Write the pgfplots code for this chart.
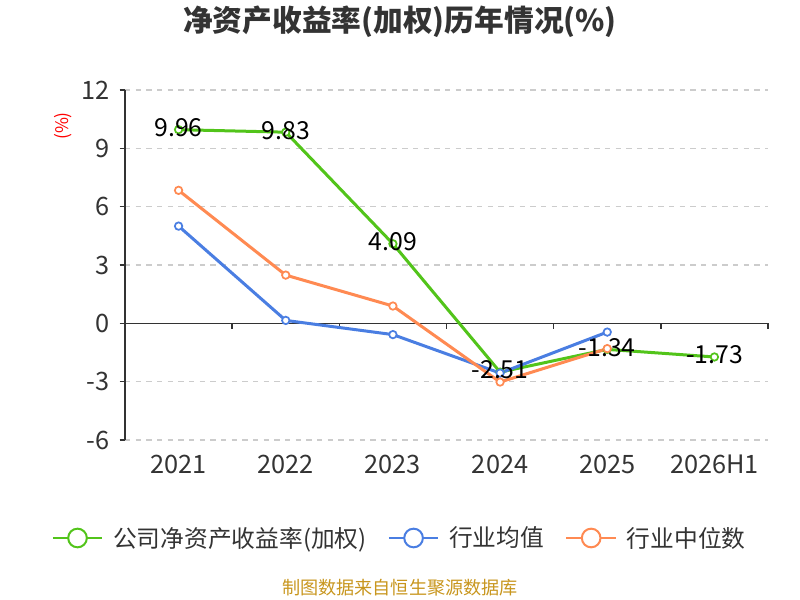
\documentclass[border=0pt]{standalone}
\usepackage{pgfplots}
\pgfplotsset{compat=1.18}
\usepackage{fontspec}
\setmainfont{Noto Sans CJK SC}
\definecolor{cgreen}{RGB}{82,196,26}
\definecolor{cblue}{RGB}{74,126,226}
\definecolor{corange}{RGB}{255,138,82}
\definecolor{ctext}{RGB}{51,51,51}
\definecolor{cgrid}{RGB}{204,204,204}
\definecolor{csrc}{RGB}{200,150,30}
\begin{document}
\begin{tikzpicture}
\path[use as bounding box] (0,0) rectangle (600pt,450pt);
\begin{axis}[
  at={(93.75pt,120pt)}, anchor=south west,
  scale only axis, width=482.25pt, height=262.5pt,
  xmin=-0.5, xmax=5.5, ymin=-6, ymax=12,
  xtick={0,1,2,3,4,5},
  xticklabels={2021,2022,2023,2024,2025,2026H1},
  ytick={-6,-3,0,3,6,9,12},
  axis y line*=left, axis x line*=bottom,
  x axis line style={draw=none},
  y axis line style={draw=ctext, line width=1.1pt, -},
  x tick style={draw=none},
  y tick style={draw=ctext, line width=1.1pt},
  tick align=outside, major tick length=4pt,
  ymajorgrids, grid style={cgrid, line width=1pt, dash pattern=on 4pt off 4pt},
  /pgf/number format/assume math mode=true,
  ticklabel style={font=\fontsize{19}{22}\selectfont, text=ctext},
  xticklabel style={yshift=-4pt},
  yticklabel style={xshift=-4pt},
  clip=false,
  legend style={at={(rel axis cs:0.4277,-0.28)}, anchor=center, draw=none, fill=none,
    font=\fontsize{17.8}{21}\selectfont, text=ctext,
    legend columns=3,
    /tikz/every odd column/.append style={column sep=5.5pt},
    /tikz/every even column/.append style={column sep=14pt}},
  legend cell align=left,
  legend image code/.code={
    \draw[line width=1.5pt] (-1pt,0pt) -- (36pt,0pt);
    \draw[line width=1.5pt, fill=white] (17.5pt,0pt) circle (7pt);
  },
]
\draw[ctext, line width=1.1pt] (axis cs:-0.5,0) -- (axis cs:5.5,0);
\draw[ctext, line width=1.1pt] (axis cs:0.5,0) -- ([yshift=-4pt]axis cs:0.5,0);
\draw[ctext, line width=1.1pt] (axis cs:1.5,0) -- ([yshift=-4pt]axis cs:1.5,0);
\draw[ctext, line width=1.1pt] (axis cs:2.5,0) -- ([yshift=-4pt]axis cs:2.5,0);
\draw[ctext, line width=1.1pt] (axis cs:3.5,0) -- ([yshift=-4pt]axis cs:3.5,0);
\draw[ctext, line width=1.1pt] (axis cs:4.5,0) -- ([yshift=-4pt]axis cs:4.5,0);
\draw[ctext, line width=1.1pt] (axis cs:5.5,0) -- ([yshift=-4pt]axis cs:5.5,0);
\addplot[cgreen, line width=2.25pt, mark=*, mark size=2.8pt,
  mark options={fill=white, line width=1.3pt}]
  coordinates {(0,9.96) (1,9.83) (2,4.09) (3,-2.51) (4,-1.34) (5,-1.73)};
\addlegendentry{公司净资产收益率(加权)}
\addplot[cblue, line width=2.25pt, mark=*, mark size=2.8pt,
  mark options={fill=white, line width=1.3pt}]
  coordinates {(0,5.00) (1,0.15) (2,-0.58) (3,-2.56) (4,-0.45)};
\addlegendentry{行业均值}
\addplot[corange, line width=2.25pt, mark=*, mark size=2.8pt,
  mark options={fill=white, line width=1.3pt}]
  coordinates {(0,6.84) (1,2.48) (2,0.89) (3,-3.02) (4,-1.30)};
\addlegendentry{行业中位数}
\addplot[draw=none, forget plot, point meta=explicit symbolic,
  nodes near coords, nodes near coords align={center},
  every node near coord/.append style={font=\fontsize{18.6}{21}\selectfont, text=black, yshift=1.5pt}]
  table[meta=lab] {
x y lab
0 9.96 9.96
1 9.83 9.83
2 4.09 4.09
3 -2.51 -2.51
4 -1.34 -1.34
5 -1.73 -1.73
};
\end{axis}
\node[font=\fontsize{22.3}{26}\selectfont\bfseries, text=ctext] at (300pt,433.5pt) {净资产收益率(加权)历年情况(\%)};
\node[font=\fontsize{13}{15}\selectfont, text=red, rotate=90] at (47.6pt,355.5pt) {(\%)};
\node[font=\fontsize{13.6}{16}\selectfont, text=csrc] at (300pt,9pt) {制图数据来自恒生聚源数据库};
\end{tikzpicture}
\end{document}
